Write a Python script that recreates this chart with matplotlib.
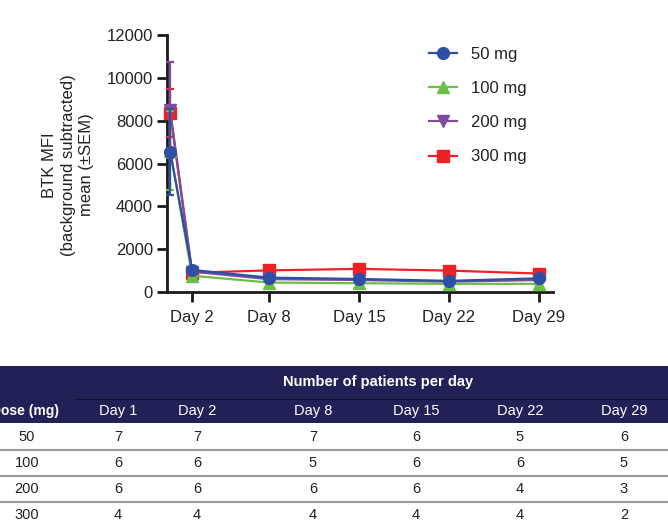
import matplotlib.pyplot as plt
from matplotlib.patches import Rectangle
from matplotlib.lines import Line2D

plt.rcParams['font.family'] = ['Liberation Sans', 'DejaVu Sans']

# time points (days); Day 1 sample plotted right at the axis
days = [0.3, 2, 8, 15, 22, 29]
tick_days = [2, 8, 15, 22, 29]
tick_labels = ['Day 2', 'Day 8', 'Day 15', 'Day 22', 'Day 29']

doses = ['50 mg', '100 mg', '200 mg', '300 mg']
mean_50 = [6550, 1030, 670, 610, 520, 640]
sem_50 = [2000, 120, 90, 80, 80, 90]
mean_100 = [6600, 760, 440, 410, 380, 380]
sem_100 = [1830, 110, 70, 60, 60, 70]
mean_200 = [8490, 950, 600, 560, 480, 560]
sem_200 = [2230, 120, 100, 90, 90, 100]
mean_300 = [8360, 900, 1010, 1080, 1000, 860]
sem_300 = [1120, 130, 130, 120, 110, 110]

colors = ['#2f4fa6', '#6cbf45', '#7d4c9e', '#ee2226']
markers = ['o', '^', 'v', 's']

# table data
table_days = ['Day 1', 'Day 2', 'Day 8', 'Day 15', 'Day 22', 'Day 29']
table_doses = ['50', '100', '200', '300']
patients = [
    [7, 7, 7, 6, 5, 6],
    [6, 6, 5, 6, 6, 5],
    [6, 6, 6, 6, 4, 3],
    [4, 4, 4, 4, 4, 2],
]

W, H = 668, 525
fig = plt.figure(figsize=(W / 100, H / 100), dpi=100)

# ---- table drawn in pixel coordinates ----
tab = fig.add_axes([0, 0, 1, 1])
tab.set_xlim(0, W)
tab.set_ylim(H, 0)
tab.axis('off')

navy = '#222156'
tab.add_patch(Rectangle((0, 366), W, 57, color=navy, lw=0))
tab.plot([75, W], [399, 399], color='#111133', lw=0.8)
tab.text(378, 382, 'Number of patients per day', color='white', fontsize=10.5,
         fontweight='bold', ha='center', va='center')
tab.text(25, 411, 'Dose (mg)', color='white', fontsize=10, fontweight='bold',
         ha='center', va='center')
col_x = [118, 197, 313, 416, 520, 624]
for x, lab in zip(col_x, table_days):
    tab.text(x, 411, lab, color='white', fontsize=10.5, ha='center', va='center')

row_y = [437, 463, 489, 515]
for i, (y, d) in enumerate(zip(row_y, table_doses)):
    tab.text(27, y, d, fontsize=10.5, ha='center', va='center', color='#222222')
    for x, n in zip(col_x, patients[i]):
        tab.text(x, y, str(n), fontsize=10.5, ha='center', va='center', color='#222222')
    if i < len(row_y) - 1:
        tab.plot([0, W], [y + 13, y + 13], color='#9a9a9a', lw=1.5)

# ---- line chart ----
ax = fig.add_axes([167 / W, 1 - 292 / H, (553 - 167) / W, (292 - 35) / H])
series = [
    (mean_300, sem_300, 3),
    (mean_200, sem_200, 2),
    (mean_100, sem_100, 1),
    (mean_50, sem_50, 0),
]
for m, s, k in series:
    ax.errorbar(days, m, yerr=s, color=colors[k], marker=markers[k], markersize=8.5,
                lw=1.6, elinewidth=1.6, capsize=3, capthick=1.6, clip_on=False,
                zorder=3 + (3 - k))

ax.set_xlim(0.05, 30.1)
ax.set_ylim(0, 12000)
ax.set_yticks(range(0, 12001, 2000))
ax.set_xticks(tick_days)
ax.set_xticklabels(tick_labels)
for side in ['top', 'right']:
    ax.spines[side].set_visible(False)
for side in ['left', 'bottom']:
    ax.spines[side].set_linewidth(2)
    ax.spines[side].set_color('#1a1a1a')
ax.tick_params(width=2, length=7, labelsize=12, color='#1a1a1a', labelcolor='#222222')
ax.tick_params(axis='x', pad=6)
ax.tick_params(axis='y', pad=3)

fig.text(68 / W, 1 - 165 / H, 'BTK MFI\n(background subtracted)\nmean (\u00b1SEM)',
         rotation=90, ha='center', va='center', fontsize=12, color='#222222',
         linespacing=1.3)

handles = [Line2D([], [], color=colors[k], marker=markers[k], markersize=8.5, lw=1.6)
           for k in range(4)]
leg = fig.legend(handles, doses, loc='upper left', bbox_to_anchor=(414 / W, 1 - 32 / H),
                 frameon=False, fontsize=12, handlelength=1.7, handletextpad=0.8,
                 labelspacing=1.15, labelcolor='#222222')

fig.savefig('out.png', dpi=100)
